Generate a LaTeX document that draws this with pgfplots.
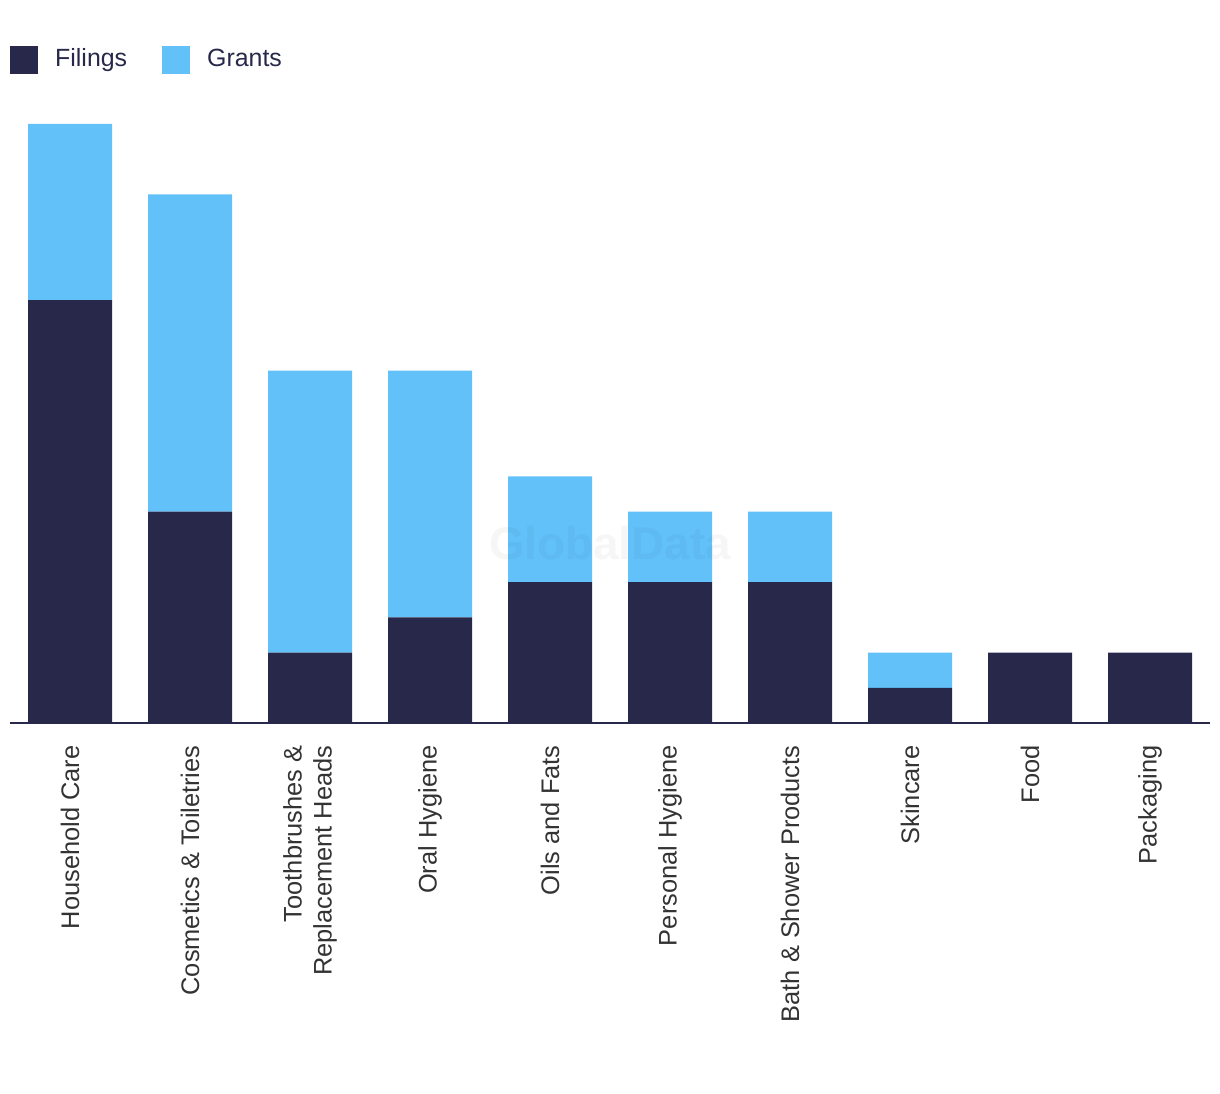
\documentclass[border=0pt]{standalone}
\usepackage{pgfplots}
\pgfplotsset{compat=1.18}
\usepackage{fontspec}
\setmainfont{Liberation Sans}
\definecolor{filings}{HTML}{27284A}
\definecolor{grants}{HTML}{62C1F9}
\definecolor{lbl}{HTML}{333333}
\begin{document}
\begin{tikzpicture}[x=1bp,y=1bp]
\path[use as bounding box] (0,0) rectangle (1220,1094);
\begin{axis}[
  at={(10bp,371bp)}, anchor=south west,
  scale only axis,
  width=1200bp, height=599bp,
  ybar stacked,
  bar width=84bp,
  xmin=-0.5, xmax=9.5,
  ymin=0, ymax=17,
  axis y line=none,
  axis x line*=bottom,
  x axis line style={line width=1.6pt, color=filings},
  xtick={0,...,9},
  xticklabels={Household Care,Cosmetics \& Toiletries,{Toothbrushes \&\\Replacement Heads},Oral Hygiene,Oils and Fats,Personal Hygiene,Bath \& Shower Products,Skincare,Food,Packaging},
  major tick length=0pt,
  xticklabel style={yshift=-19bp, rotate=90, anchor=east, align=right, font=\fontsize{25.5}{30}\selectfont, text=lbl},
  clip=false,
  legend style={at={(0,1)}, anchor=west, yshift=64bp, draw=none, fill=none, inner sep=0pt,
    font=\fontsize{25}{30}\selectfont, text=filings,
    /tikz/every even column/.append style={column sep=35bp},
    nodes={inner sep=0pt, text height=18bp, text depth=5bp}},
  legend columns=2,
  legend image code/.code={\fill[#1] (0bp,-14bp) rectangle (28bp,14bp); \path (45bp,0);},
]
\node[font=\bfseries\fontsize{46}{46}\selectfont, text=black, opacity=0.035] at (axis cs:4.5,5.1) {GlobalData};
\addplot[fill=filings, draw=none] coordinates {(0,12) (1,6) (2,2) (3,3) (4,4) (5,4) (6,4) (7,1) (8,2) (9,2)};
\addplot[fill=grants, draw=none] coordinates {(0,5) (1,9) (2,8) (3,7) (4,3) (5,2) (6,2) (7,1) (8,0) (9,0)};
\legend{Filings,Grants}
\end{axis}
\end{tikzpicture}
\end{document}
